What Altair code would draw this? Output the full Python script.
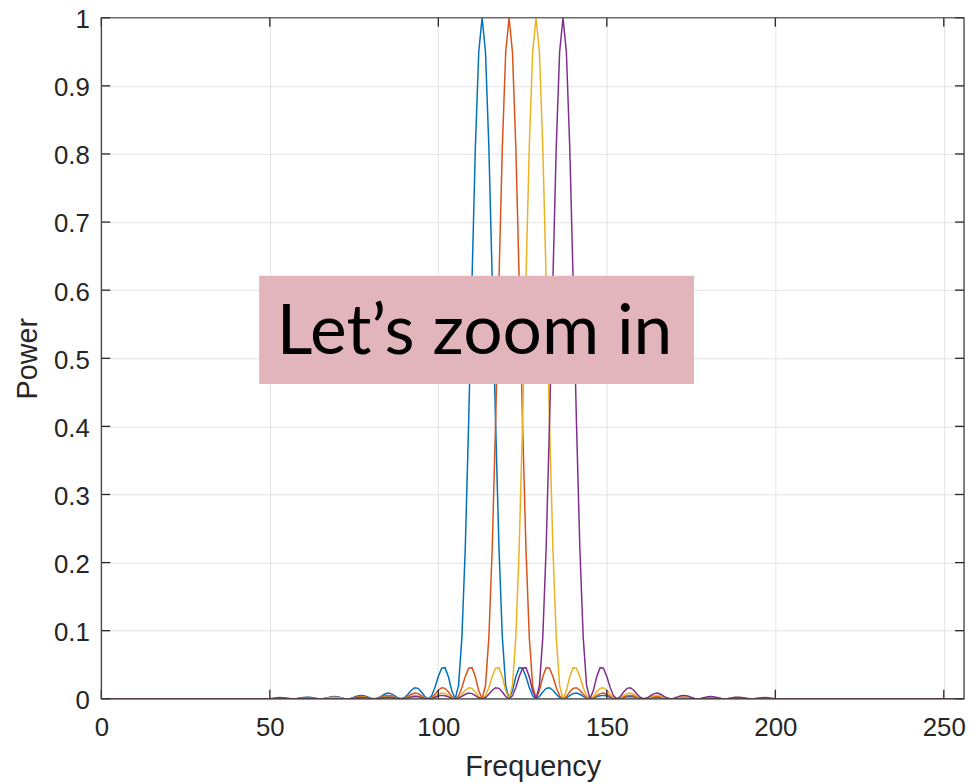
import altair as alt
import pandas as pd

# ---------------- data ----------------
series_names = ["Tone 1", "Tone 2", "Tone 3", "Tone 4"]
series_colors = ["#0072BD", "#D95319", "#EDB120", "#7E2F8E"]
peak_frequency = [113, 121, 129, 137]
window_start = [49, 57, 65, 73]          # first frequency bin listed for each series
x_ticks = [0, 50, 100, 150, 200, 250]
y_ticks = [0, 0.1, 0.2, 0.3, 0.4, 0.5, 0.6, 0.7, 0.8, 0.9, 1]
x_range = [0, 256]

blue_power = [
    0.0, 0.0002, 0.0008, 0.0015, 0.0018, 0.0016, 0.0010, 0.0003,
    0.0, 0.0003, 0.0011, 0.0020, 0.0024, 0.0021, 0.0013, 0.0004,
    0.0, 0.0004, 0.0015, 0.0027, 0.0034, 0.0030, 0.0018, 0.0006,
    0.0, 0.0006, 0.0023, 0.0040, 0.0050, 0.0045, 0.0028, 0.0009,
    0.0, 0.0010, 0.0036, 0.0066, 0.0083, 0.0076, 0.0048, 0.0015,
    0.0, 0.0018, 0.0067, 0.0126, 0.0162, 0.0153, 0.0100, 0.0033,
    0.0, 0.0042, 0.0165, 0.0328, 0.0450, 0.0457, 0.0324, 0.0117,
    0.0, 0.0194, 0.0901, 0.2214, 0.4053, 0.6150, 0.8106, 0.9497,
    1.0,
    0.9497, 0.8106, 0.6150, 0.4053, 0.2214, 0.0901, 0.0194, 0.0,
    0.0117, 0.0324, 0.0457, 0.0450, 0.0328, 0.0165, 0.0042, 0.0,
    0.0033, 0.0100, 0.0153, 0.0162, 0.0126, 0.0067, 0.0018, 0.0,
    0.0015, 0.0048, 0.0076, 0.0083, 0.0066, 0.0036, 0.0010, 0.0,
    0.0009, 0.0028, 0.0045, 0.0050, 0.0040, 0.0023, 0.0006, 0.0,
    0.0006, 0.0018, 0.0030, 0.0034, 0.0027, 0.0015, 0.0004, 0.0,
    0.0004, 0.0013, 0.0021, 0.0024, 0.0020, 0.0011, 0.0003, 0.0,
    0.0003, 0.0010, 0.0016, 0.0018, 0.0015, 0.0008, 0.0002, 0.0,
]

red_power = [
    0.0, 0.0002, 0.0008, 0.0015, 0.0018, 0.0016, 0.0010, 0.0003,
    0.0, 0.0003, 0.0011, 0.0020, 0.0024, 0.0021, 0.0013, 0.0004,
    0.0, 0.0004, 0.0015, 0.0027, 0.0034, 0.0030, 0.0018, 0.0006,
    0.0, 0.0006, 0.0023, 0.0040, 0.0050, 0.0045, 0.0028, 0.0009,
    0.0, 0.0010, 0.0036, 0.0066, 0.0083, 0.0076, 0.0048, 0.0015,
    0.0, 0.0018, 0.0067, 0.0126, 0.0162, 0.0153, 0.0100, 0.0033,
    0.0, 0.0042, 0.0165, 0.0328, 0.0450, 0.0457, 0.0324, 0.0117,
    0.0, 0.0194, 0.0901, 0.2214, 0.4053, 0.6150, 0.8106, 0.9497,
    1.0,
    0.9497, 0.8106, 0.6150, 0.4053, 0.2214, 0.0901, 0.0194, 0.0,
    0.0117, 0.0324, 0.0457, 0.0450, 0.0328, 0.0165, 0.0042, 0.0,
    0.0033, 0.0100, 0.0153, 0.0162, 0.0126, 0.0067, 0.0018, 0.0,
    0.0015, 0.0048, 0.0076, 0.0083, 0.0066, 0.0036, 0.0010, 0.0,
    0.0009, 0.0028, 0.0045, 0.0050, 0.0040, 0.0023, 0.0006, 0.0,
    0.0006, 0.0018, 0.0030, 0.0034, 0.0027, 0.0015, 0.0004, 0.0,
    0.0004, 0.0013, 0.0021, 0.0024, 0.0020, 0.0011, 0.0003, 0.0,
    0.0003, 0.0010, 0.0016, 0.0018, 0.0015, 0.0008, 0.0002, 0.0,
]

yellow_power = [
    0.0, 0.0002, 0.0008, 0.0015, 0.0018, 0.0016, 0.0010, 0.0003,
    0.0, 0.0003, 0.0011, 0.0020, 0.0024, 0.0021, 0.0013, 0.0004,
    0.0, 0.0004, 0.0015, 0.0027, 0.0034, 0.0030, 0.0018, 0.0006,
    0.0, 0.0006, 0.0023, 0.0040, 0.0050, 0.0045, 0.0028, 0.0009,
    0.0, 0.0010, 0.0036, 0.0066, 0.0083, 0.0076, 0.0048, 0.0015,
    0.0, 0.0018, 0.0067, 0.0126, 0.0162, 0.0153, 0.0100, 0.0033,
    0.0, 0.0042, 0.0165, 0.0328, 0.0450, 0.0457, 0.0324, 0.0117,
    0.0, 0.0194, 0.0901, 0.2214, 0.4053, 0.6150, 0.8106, 0.9497,
    1.0,
    0.9497, 0.8106, 0.6150, 0.4053, 0.2214, 0.0901, 0.0194, 0.0,
    0.0117, 0.0324, 0.0457, 0.0450, 0.0328, 0.0165, 0.0042, 0.0,
    0.0033, 0.0100, 0.0153, 0.0162, 0.0126, 0.0067, 0.0018, 0.0,
    0.0015, 0.0048, 0.0076, 0.0083, 0.0066, 0.0036, 0.0010, 0.0,
    0.0009, 0.0028, 0.0045, 0.0050, 0.0040, 0.0023, 0.0006, 0.0,
    0.0006, 0.0018, 0.0030, 0.0034, 0.0027, 0.0015, 0.0004, 0.0,
    0.0004, 0.0013, 0.0021, 0.0024, 0.0020, 0.0011, 0.0003, 0.0,
    0.0003, 0.0010, 0.0016, 0.0018, 0.0015, 0.0008, 0.0002, 0.0,
]

purple_power = [
    0.0, 0.0002, 0.0008, 0.0015, 0.0018, 0.0016, 0.0010, 0.0003,
    0.0, 0.0003, 0.0011, 0.0020, 0.0024, 0.0021, 0.0013, 0.0004,
    0.0, 0.0004, 0.0015, 0.0027, 0.0034, 0.0030, 0.0018, 0.0006,
    0.0, 0.0006, 0.0023, 0.0040, 0.0050, 0.0045, 0.0028, 0.0009,
    0.0, 0.0010, 0.0036, 0.0066, 0.0083, 0.0076, 0.0048, 0.0015,
    0.0, 0.0018, 0.0067, 0.0126, 0.0162, 0.0153, 0.0100, 0.0033,
    0.0, 0.0042, 0.0165, 0.0328, 0.0450, 0.0457, 0.0324, 0.0117,
    0.0, 0.0194, 0.0901, 0.2214, 0.4053, 0.6150, 0.8106, 0.9497,
    1.0,
    0.9497, 0.8106, 0.6150, 0.4053, 0.2214, 0.0901, 0.0194, 0.0,
    0.0117, 0.0324, 0.0457, 0.0450, 0.0328, 0.0165, 0.0042, 0.0,
    0.0033, 0.0100, 0.0153, 0.0162, 0.0126, 0.0067, 0.0018, 0.0,
    0.0015, 0.0048, 0.0076, 0.0083, 0.0066, 0.0036, 0.0010, 0.0,
    0.0009, 0.0028, 0.0045, 0.0050, 0.0040, 0.0023, 0.0006, 0.0,
    0.0006, 0.0018, 0.0030, 0.0034, 0.0027, 0.0015, 0.0004, 0.0,
    0.0004, 0.0013, 0.0021, 0.0024, 0.0020, 0.0011, 0.0003, 0.0,
    0.0003, 0.0010, 0.0016, 0.0018, 0.0015, 0.0008, 0.0002, 0.0,
]

annotation_text = "Let\u2019s zoom in"

# ---------------- table ----------------
rows = []
for order, (name, start, values) in enumerate(
    zip(series_names, window_start, [blue_power, red_power, yellow_power, purple_power])
):
    freqs = [x_range[0]] + list(range(start, start + len(values))) + [x_range[1]]
    powers = [0.0] + values + [0.0]
    for f, p in zip(freqs, powers):
        rows.append({"series": name, "order": order, "Frequency": f, "Power": p})
df = pd.DataFrame(rows)

W, H = 869, 686
FONT = "Liberation Sans"
INK = "#262626"
TICK = 9

xscale = alt.Scale(domain=x_range, nice=False, zero=False)
yscale = alt.Scale(domain=[0, 1], nice=False)

lines = alt.Chart(df).mark_line(strokeWidth=1.5, clip=True).encode(
    x=alt.X("Frequency:Q", scale=xscale,
            axis=alt.Axis(values=x_ticks, title="Frequency", format="d",
                          grid=True, gridColor="#e3e3e3", gridWidth=1,
                          ticks=False, domain=False,
                          labelFont=FONT, labelFontSize=26, labelColor=INK,
                          labelPadding=16, labelFlush=False,
                          titleFont=FONT, titleFontSize=29, titleFontWeight="normal",
                          titleColor=INK, titlePadding=12)),
    y=alt.Y("Power:Q", scale=yscale,
            axis=alt.Axis(values=y_ticks, title="Power", format="~g",
                          grid=True, gridColor="#e3e3e3", gridWidth=1,
                          ticks=False, domain=False,
                          labelFont=FONT, labelFontSize=26, labelColor=INK,
                          labelPadding=12, labelFlush=False, labelOffset=2,
                          titleFont=FONT, titleFontSize=29, titleFontWeight="normal",
                          titleColor=INK, titlePadding=11)),
    color=alt.Color("series:N", scale=alt.Scale(domain=series_names, range=series_colors),
                    legend=None),
    order=alt.Order("order:Q"),
    detail="series:N",
)

xt = pd.DataFrame({"t": x_ticks})
yt = pd.DataFrame({"t": y_ticks})

x_ticks_bottom = alt.Chart(xt).mark_rule(color=INK, strokeWidth=1.3).encode(
    x=alt.X("t:Q", scale=xscale), y=alt.value(H), y2=alt.value(H - TICK))
x_ticks_top = alt.Chart(xt).mark_rule(color=INK, strokeWidth=1.3).encode(
    x=alt.X("t:Q", scale=xscale), y=alt.value(0), y2=alt.value(TICK))
y_ticks_left = alt.Chart(yt).mark_rule(color=INK, strokeWidth=1.3).encode(
    y=alt.Y("t:Q", scale=yscale), x=alt.value(0), x2=alt.value(TICK))
y_ticks_right = alt.Chart(yt).mark_rule(color=INK, strokeWidth=1.3).encode(
    y=alt.Y("t:Q", scale=yscale), x=alt.value(W), x2=alt.value(W - TICK))

frame = alt.Chart(pd.DataFrame({"a": [0]})).mark_rect(
    fill=None, stroke="#3a3a3a", strokeWidth=1.2
).encode(x=alt.value(0), x2=alt.value(W), y=alt.value(0), y2=alt.value(H))

note_box = alt.Chart(pd.DataFrame({"a": [0]})).mark_rect(
    color="#e2b4bb", opacity=1
).encode(x=alt.value(159), x2=alt.value(597), y=alt.value(260), y2=alt.value(369))

note_text = alt.Chart(pd.DataFrame({"label": [annotation_text]})).mark_text(
    font="Lato", fontSize=70, color="#000000", align="center", baseline="alphabetic"
).encode(text="label:N", x=alt.value(376), y=alt.value(339))

chart = alt.layer(
    lines, x_ticks_bottom, x_ticks_top, y_ticks_left, y_ticks_right, frame,
    note_box, note_text
).properties(
    width=W, height=H,
    autosize=alt.AutoSizeParams(type="none"),
    padding={"left": 94, "top": 7, "right": 2, "bottom": 82},
).configure_view(stroke=None).configure(background="white")

chart.save("out.html", embed_options={"renderer": "svg", "actions": False})
